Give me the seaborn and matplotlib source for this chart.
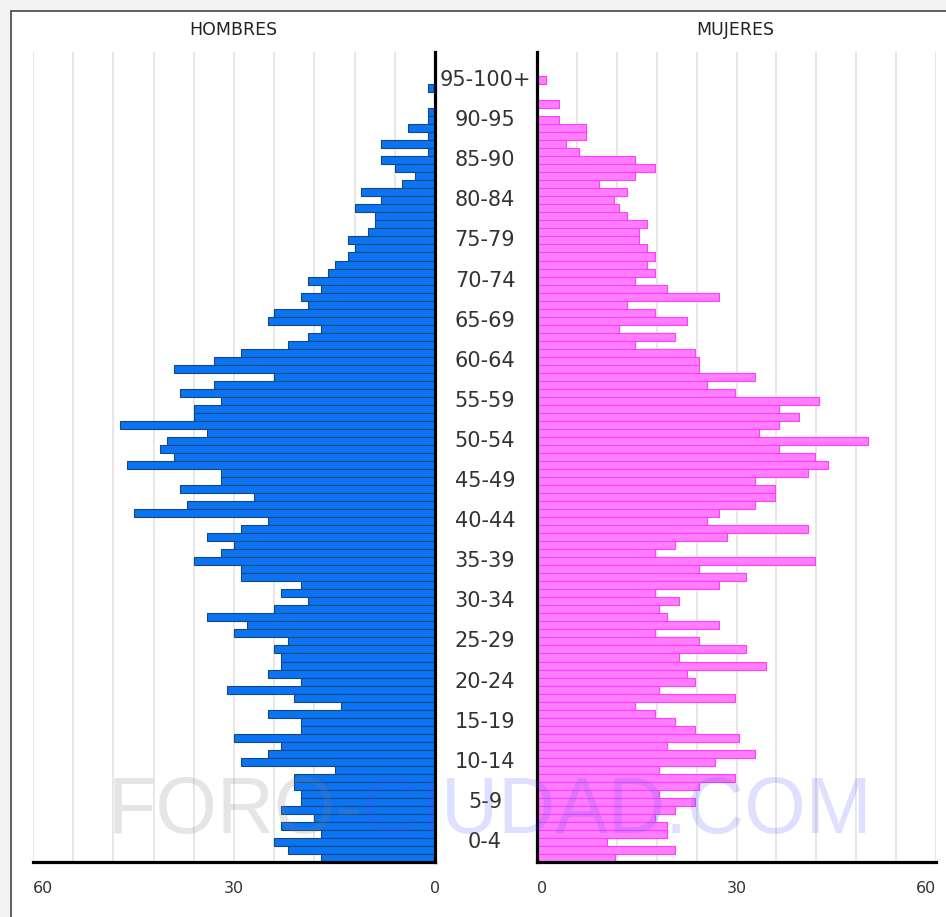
import matplotlib
matplotlib.use("Agg")
import matplotlib.pyplot as plt
import matplotlib.transforms as mtransforms
from matplotlib.patches import Rectangle
import seaborn as sns

# Population by single year of age (0 .. 100+)
ages = list(range(0, 101))

hombres = [17, 22, 24, 17, 23, 18, 23, 20, 20, 21,
           21, 15, 29, 25, 23, 30, 20, 20, 25, 14,
           21, 31, 20, 25, 23, 23, 24, 22, 30, 28,
           34, 24, 19, 23, 20, 29, 29, 36, 32, 30,
           34, 29, 25, 45, 37, 27, 38, 32, 32, 46,
           39, 41, 40, 34, 47, 36, 36, 32, 38, 33,
           24, 39, 33, 29, 22, 19, 17, 25, 24, 19,
           20, 17, 19, 16, 15, 13, 12, 13, 10, 9,
           9, 12, 8, 11, 5, 3, 6, 8, 1, 8,
           1, 4, 1, 1, 0, 0, 1, 0, 0, 0, 0]

mujeres = [11.7, 20.8, 10.5, 19.5, 19.5, 17.8, 20.8, 23.8, 18.3, 24.3,
           29.8, 18.3, 26.8, 32.8, 19.5, 30.4, 23.8, 20.8, 17.8, 14.7,
           29.8, 18.3, 23.8, 22.5, 34.5, 21.3, 31.5, 24.3, 17.8, 27.3,
           19.5, 18.3, 21.3, 17.8, 27.3, 31.5, 24.3, 41.8, 17.8, 20.8,
           28.6, 40.7, 25.5, 27.3, 32.8, 35.8, 35.8, 32.8, 40.8, 43.7,
           41.8, 36.4, 49.7, 33.4, 36.4, 39.4, 36.4, 42.4, 29.8, 25.5,
           32.8, 24.3, 24.3, 23.8, 14.7, 20.8, 12.3, 22.5, 17.8, 13.5,
           27.3, 19.5, 14.7, 17.8, 16.5, 17.8, 16.5, 15.3, 15.3, 16.5,
           13.5, 12.3, 11.6, 13.5, 9.3, 14.7, 17.8, 14.7, 6.3, 4.4,
           7.4, 7.4, 3.3, 0, 3.3, 0, 0, 1.4, 0, 0, 0]

grupos = ["0-4", "5-9", "10-14", "15-19", "20-24", "25-29", "30-34", "35-39",
          "40-44", "45-49", "50-54", "55-59", "60-64", "65-69", "70-74",
          "75-79", "80-84", "85-90", "90-95", "95-100+"]

sns.set_style("white")
plt.rcParams['font.family'] = ['DejaVu Sans']

W, H = 946, 917
fig = plt.figure(figsize=(W / 100, H / 100), dpi=100, facecolor='#f3f3f3')

# white panel with dark frame (top-left corner visible)
fig.patches.append(Rectangle((11 / W, -0.1), 1.2, (H - 11) / H + 0.1,
                             transform=fig.transFigure, facecolor='white',
                             edgecolor='#444444', linewidth=1.2, zorder=-5))

bottom = (H - 862) / H
height = (862 - 52) / H
axL = fig.add_axes([33 / W, bottom, (435 - 33) / W, height])
axR = fig.add_axes([537 / W, bottom, (936 - 537) / W, height])

labels = [str(a) for a in ages]
order = labels[::-1]

sns.barplot(x=hombres, y=labels, order=order, orient='h', ax=axL,
            color='#0a74f2', edgecolor='#15487f', linewidth=0.8,
            width=1.0, saturation=1, zorder=2)
sns.barplot(x=mujeres, y=labels, order=order, orient='h', ax=axR,
            color='#ff7dff', edgecolor='#ff3cff', linewidth=0.8,
            width=1.0, saturation=1, zorder=2)

for ax, side in [(axL, 'left'), (axR, 'right')]:
    ax.set_facecolor('none')
    ax.set_xlabel('')
    ax.set_ylabel('')
    ax.set_yticks([])
    ax.set_xticks(range(0, 61, 6), minor=True)
    ax.set_xticks([0, 30, 60])
    ax.set_xticklabels(['0', '30', '60'])
    ax.grid(axis='x', which='minor', color='#e3e3e3', linewidth=1.2, zorder=0)
    ax.grid(axis='x', which='major', color='#e3e3e3', linewidth=1.2, zorder=0)
    ax.set_axisbelow(True)
    ax.tick_params(axis='x', which='both', length=0, pad=14,
                   labelsize=11.5, labelcolor='#333333')
    for s in ['top', 'left', 'right', 'bottom']:
        ax.spines[s].set_visible(False)
    ax.spines['bottom'].set_visible(True)
    ax.spines['bottom'].set_linewidth(2.3)
    ax.spines['bottom'].set_color('black')
    inner = 'right' if side == 'left' else 'left'
    ax.spines[inner].set_visible(True)
    ax.spines[inner].set_linewidth(2.3)
    ax.spines[inner].set_color('black')
    ax.set_ylim(len(ages) - 0.5, -0.5)

axL.set_xlim(60, 0)
axR.set_xlim(0, 60)

# tick label alignment like the original
tl = axL.get_xticklabels()
tl[2].set_ha('left')
tr = axR.get_xticklabels()
tr[0].set_ha('left')
tr[2].set_ha('right')

fig.text(233 / W, 1 - 30 / H, 'HOMBRES', ha='center', va='center',
         fontsize=12.5, color='#222222')
fig.text(735 / W, 1 - 30 / H, 'MUJERES', ha='center', va='center',
         fontsize=12.5, color='#222222')

# age-group labels in the middle column
trans = mtransforms.blended_transform_factory(fig.transFigure, axL.transData)
for i, g in enumerate(grupos):
    pos = len(ages) - 1 - (5 * i + 2)
    axL.text(485 / W, pos, g, transform=trans, ha='center', va='center',
             fontsize=15, color='#333333', clip_on=False)

# watermark
wy = (H - 833) / H
fig.text(362 / W, wy, 'FORO-', ha='right', va='baseline', fontsize=57,
         family='Liberation Sans', color='#808080', alpha=0.2, zorder=10)
fig.text(362 / W, wy, 'CIUDAD.COM', ha='left', va='baseline', fontsize=57,
         family='Liberation Sans', color='#5050ff', alpha=0.18, zorder=10)

fig.savefig('out.png', dpi=100, facecolor=fig.get_facecolor())
